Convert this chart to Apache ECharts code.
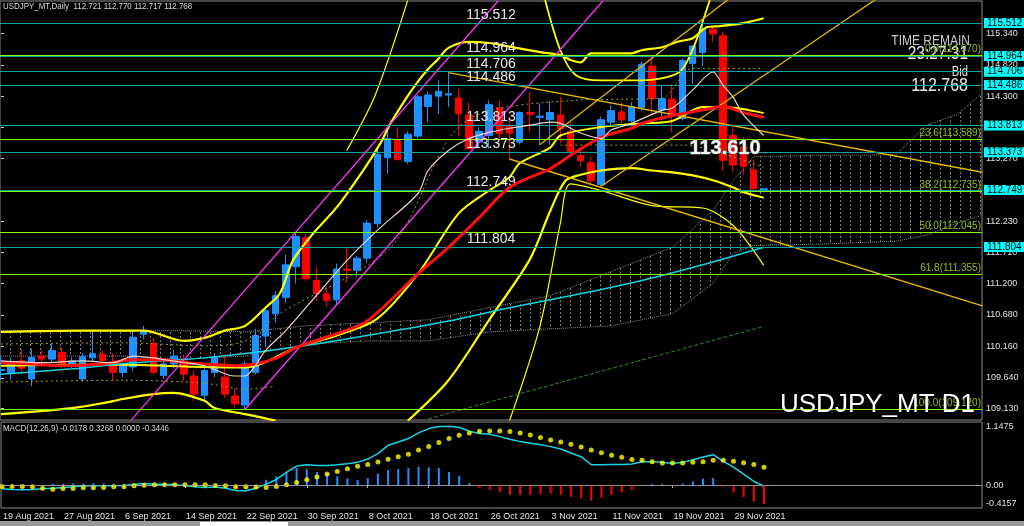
<!DOCTYPE html>
<html><head><meta charset="utf-8">
<script src="https://cdn.jsdelivr.net/npm/echarts@6/dist/echarts.min.js"></script>
<style>html,body{margin:0;padding:0;background:#000;overflow:hidden}#c{width:1024px;height:526px}</style>
</head><body><div id="c"></div>
<script>
// ---------- data ----------
const dates = ['19 Aug 2021','20 Aug 2021','23 Aug 2021','24 Aug 2021','25 Aug 2021','26 Aug 2021','27 Aug 2021','30 Aug 2021','31 Aug 2021',
'1 Sep 2021','2 Sep 2021','3 Sep 2021','6 Sep 2021','7 Sep 2021','8 Sep 2021','9 Sep 2021','10 Sep 2021','13 Sep 2021','14 Sep 2021','15 Sep 2021','16 Sep 2021','17 Sep 2021','20 Sep 2021','21 Sep 2021','22 Sep 2021','23 Sep 2021','24 Sep 2021','27 Sep 2021','28 Sep 2021','29 Sep 2021','30 Sep 2021',
'1 Oct 2021','4 Oct 2021','5 Oct 2021','6 Oct 2021','7 Oct 2021','8 Oct 2021','11 Oct 2021','12 Oct 2021','13 Oct 2021','14 Oct 2021','15 Oct 2021','18 Oct 2021','19 Oct 2021','20 Oct 2021','21 Oct 2021','22 Oct 2021','25 Oct 2021','26 Oct 2021','27 Oct 2021','28 Oct 2021','29 Oct 2021',
'1 Nov 2021','2 Nov 2021','3 Nov 2021','4 Nov 2021','5 Nov 2021','8 Nov 2021','9 Nov 2021','10 Nov 2021','11 Nov 2021','12 Nov 2021','15 Nov 2021','16 Nov 2021','17 Nov 2021','18 Nov 2021','19 Nov 2021','22 Nov 2021','23 Nov 2021','24 Nov 2021','25 Nov 2021','26 Nov 2021','29 Nov 2021','30 Nov 2021',
'1 Dec 2021','2 Dec 2021'];
const open  = [109.76,109.73,109.92,109.62,110.00,109.95,110.06,109.87,109.62,109.97,110.03,109.87,109.73,109.82,110.36,110.21,109.68,109.87,109.92,109.67,109.35,109.73,109.65,109.34,109.19,109.73,110.33,110.70,110.97,111.48,111.96,111.25,111.03,110.93,111.44,111.42,111.62,112.19,113.28,113.57,113.22,113.64,114.13,114.30,114.32,114.27,113.99,113.54,113.65,114.11,113.80,113.54,114.03,113.95,113.91,113.99,113.72,113.32,113.20,112.84,113.87,114.04,113.89,114.11,114.80,114.07,114.25,113.93,114.84,115.02,115.41,115.30,113.65,113.46,113.08,112.721];
const high  = [110.00,109.98,110.11,110.12,110.10,110.20,110.15,109.98,110.05,110.42,110.10,110.05,109.90,110.42,110.50,110.30,109.95,110.10,110.03,109.75,109.80,110.05,110.03,109.45,109.92,110.45,110.80,111.07,111.68,112.05,112.02,111.47,111.15,111.53,111.79,111.66,112.25,113.42,113.79,113.79,113.72,114.32,114.37,114.57,114.69,114.41,114.20,113.79,114.23,114.23,113.96,114.05,114.37,114.18,114.22,114.29,113.87,113.46,113.30,113.96,114.15,114.20,114.20,114.87,114.97,114.47,114.50,114.92,115.15,115.52,115.45,115.37,113.80,113.62,113.25,112.770];
const low   = [109.60,109.60,109.70,109.50,109.85,109.90,109.80,109.80,109.58,109.90,109.85,109.60,109.65,109.75,110.28,109.70,109.62,109.80,109.59,109.26,109.26,109.65,109.31,109.15,109.12,109.70,110.15,110.55,110.88,111.20,111.24,110.92,110.82,110.85,111.21,111.30,111.54,112.13,113.02,113.24,113.18,113.60,113.87,114.00,114.12,113.65,113.41,113.46,113.43,113.57,113.24,113.50,113.71,113.49,113.49,113.52,113.32,113.13,112.83,112.81,113.80,113.85,113.80,114.05,114.00,113.90,113.70,113.90,114.50,114.80,115.20,113.07,113.05,113.00,112.72,112.717];
const close = [109.78,109.87,109.80,109.98,109.95,110.09,109.87,109.92,109.99,110.04,109.93,109.73,109.84,110.31,110.42,109.73,109.87,110.00,109.70,109.37,109.76,109.98,109.37,109.21,109.87,110.34,110.75,111.00,111.51,111.98,111.28,111.03,110.92,111.44,111.42,111.62,112.20,113.34,113.60,113.25,113.67,114.29,114.32,114.38,114.34,114.01,113.43,113.72,114.16,113.68,113.69,114.03,114.00,113.97,114.03,113.76,113.38,113.23,112.90,113.91,114.06,113.91,114.13,114.83,114.26,114.26,113.99,114.89,115.13,115.41,115.33,113.24,113.16,113.14,112.77,112.768];

const macdLine = [-0.067,-0.079,-0.085,-0.079,-0.067,-0.055,-0.043,-0.030,-0.018,-0.012,-0.012,-0.012,-0.006,0.012,0.030,0.018,0.018,0.006,-0.006,-0.030,-0.043,-0.036,-0.055,-0.097,-0.103,-0.055,0.018,0.103,0.231,0.347,0.371,0.359,0.359,0.371,0.389,0.414,0.474,0.572,0.724,0.785,0.846,0.949,1.028,1.064,1.064,1.052,0.979,0.937,0.925,0.882,0.834,0.791,0.760,0.736,0.700,0.657,0.584,0.517,0.371,0.371,0.377,0.377,0.383,0.426,0.426,0.414,0.395,0.414,0.462,0.511,0.554,0.432,0.328,0.201,0.067,-0.018];
const signalLine = [-0.024,-0.024,-0.024,-0.030,-0.055,-0.073,-0.061,-0.061,-0.049,-0.049,-0.043,-0.030,-0.030,-0.012,0.000,0.006,0.006,0.006,0.006,0.006,0.006,-0.006,-0.012,-0.030,-0.030,-0.036,-0.043,-0.024,0.006,0.049,0.097,0.146,0.201,0.249,0.298,0.341,0.377,0.420,0.469,0.517,0.560,0.639,0.700,0.773,0.846,0.906,0.949,0.979,0.985,0.985,0.973,0.949,0.912,0.864,0.821,0.785,0.742,0.694,0.639,0.590,0.542,0.505,0.468,0.450,0.426,0.401,0.401,0.401,0.414,0.426,0.450,0.450,0.432,0.408,0.377,0.327];
const histValues = [-0.040,-0.050,-0.060,-0.050,-0.010,0.020,0.020,0.030,0.030,0.035,0.030,0.020,0.025,0.025,0.030,0.012,0.012,0.000,-0.012,-0.035,-0.045,-0.030,-0.040,-0.060,-0.070,-0.020,0.097,0.158,0.237,0.310,0.292,0.237,0.213,0.158,0.122,0.097,0.128,0.207,0.274,0.292,0.310,0.335,0.322,0.310,0.237,0.164,0.036,-0.055,-0.085,-0.128,-0.176,-0.176,-0.176,-0.164,-0.152,-0.176,-0.213,-0.237,-0.280,-0.225,-0.176,-0.134,-0.091,-0.006,0.018,0.018,-0.012,0.024,0.067,0.116,0.128,-0.030,-0.134,-0.219,-0.298,-0.345];

const priceTicks = [109.130,109.640,110.160,110.680,111.200,111.710,112.230,112.750,113.270,113.780,114.300,114.820,115.340];
const macdTicks = [-0.4157,0,1.1475];
const dateTickIdx = [0,6,12,18,24,30,36,42,48,54,60,66,72];
const levelPrices = [115.512,114.964,114.706,114.486,113.813,113.373,112.749,111.804];
const fibNames  = ['0.0','23.6','38.2','50.0','61.8','100.0'];
const fibPrices = [114.970,113.589,112.735,112.045,111.355,109.120];

// indicator readings [bar index, price]
const redMA = [[0,109.89],[3,109.87],[6,109.84],[10,109.87],[13,109.94],[16,109.94],[18,109.89],[20,109.87],[23,109.84],[25,109.87],[27,109.96],[29,110.14],[33,110.37],[36,110.58],[41,111.36],[44,111.80],[47,112.29],[50,112.79],[54,113.10],[56,113.32],[59,113.62],[62,113.77],[63,113.85],[66,113.98],[69,114.07],[71,114.13],[73,114.03],[75,113.95]];
const whiteMA = [[0,109.92],[4,109.89],[8,109.92],[11,109.89],[13,110.00],[15,109.97],[16,109.94],[20,109.84],[23,109.67],[24,109.67],[25,109.84],[26,110.09],[28,110.42],[31,111.00],[34,111.58],[37,112.08],[41,112.69],[42,113.07],[44,113.40],[46,113.60],[48,113.70],[50,113.77],[52,113.82],[54,113.87],[55,113.85],[57,113.69],[59,113.60],[60,113.74],[62,113.85],[65,114.07],[66,114.10],[68,114.40],[70,114.70],[71,114.48],[72,114.28],[73,113.99],[75,113.65]];
const cyanMA = [[0,109.70],[7,109.79],[13,109.89],[20,109.97],[29,110.15],[36,110.34],[44,110.58],[50,110.80],[57,111.03],[63,111.25],[69,111.51],[75,111.80]];
const greenMA = [[42,108.96],[75,110.49]];
const bbMid = [[0,109.84],[10,109.86],[20,109.82],[24,109.81],[29,110.14],[33,110.34],[37,110.62],[41,111.36],[45,112.36],[48,112.74],[50,112.96],[51,113.19],[54,113.45],[55,113.65],[59,113.79],[63,113.85],[66,113.89],[69,114.12],[71,114.12],[75,114.02]];
const bbUpper = [[0,110.40],[8,110.42],[14,110.42],[18,110.25],[20,110.30],[22,110.42],[24,110.50],[26,110.80],[27.4,111.03],[28.7,111.58],[30.7,112.03],[33,112.46],[35.6,113.07],[37.3,113.52],[38.3,113.85],[39.9,114.28],[40.9,114.52],[41.9,114.73],[42.9,114.90],[44,115.10],[46,115.20],[48,115.18],[50,115.12],[53,115.03],[55,114.98],[56,114.90],[57,114.86],[58,115.01],[62,115.01],[63,115.06],[65,115.11],[66.5,115.20],[68,115.26],[69.4,115.44],[70.7,115.46],[73,115.51],[75,115.59]];
const bbUpperB = [[53.5,115.89],[55,115.06],[56.5,114.65],[59,114.56],[63,114.56],[66.7,114.70],[68.2,115.15],[69.2,115.64],[69.7,115.89]];
const bbUpperThin = [[34,113.40],[36.8,114.32],[40,115.89]];
const bbLowerA = [[0,109.04],[7,109.14],[10,109.22],[12,109.29],[15,109.37],[17,109.39],[20,109.26],[21,109.14],[24,109.04],[26,108.97],[27,108.93]];
const bbLowerB = [[40,108.93],[44,109.60],[48,110.60],[52,111.60],[54,112.40],[55.5,112.90],[57,113.00],[59,113.07],[62,113.11],[64,113.07],[66,113.04],[68,112.99],[70,112.91],[72,112.79],[73,112.71],[75,112.62]];
const bbLowerThin = [[50,108.93],[53,110.50],[55,112.20],[56,112.85],[59,112.74],[64,112.49],[69,112.45],[72,112.16],[75,111.50]];
const oliveUpper = [[0,110.20],[12,110.22],[20,110.17],[24,110.25],[27.4,110.70],[38.3,111.80],[45.4,113.85],[56.3,114.23],[61,114.25],[65,114.27],[68,114.76],[75,114.76]];
const oliveLowerL = [[0,109.57],[12,109.60],[20,109.55],[24,109.45],[27,109.50]];
const oliveLowerR = [[55,113.49],[67,113.49],[75,113.12]];
const magenta1 = [[12.8,108.94],[48.9,115.88]];
const magenta2 = [[24,109.12],[59.2,115.88]];
const goldDown1 = [[44,114.69],[96.5,113.04]];
const goldDown2 = [[50,113.26],[96.5,110.83]];
const goldUp1 = [[59,112.81],[86,115.90]];
const goldUp2 = [[53,113.50],[71.5,115.90]];
const cloudIdx = [0,6,12,18,24,30,36,42,48,54,60,66,70,72,74,80,88,91,94,96.5];
const cloudTop = [110.42,110.42,110.42,110.42,110.40,110.50,110.55,110.60,110.80,111.00,111.40,111.80,112.40,112.90,113.30,113.32,113.33,113.82,114.00,114.35];
const cloudBot = [110.00,110.00,110.00,109.95,110.00,110.20,110.25,110.25,110.40,110.45,110.50,110.70,111.20,111.70,111.83,111.85,111.90,112.00,112.20,112.33];

// ---------- chart ----------
const X_MIN = -0.1, X_MAX = 96.46;
const Y_MIN = 108.942, Y_MAX = 115.875;
const FONT_N = "'Liberation Sans Narrow','Liberation Sans',Arial,sans-serif";
const FONT = "'Liberation Sans',Arial,sans-serif";

const pat = document.createElement('canvas'); pat.width = 10; pat.height = 4;
const pg = pat.getContext('2d'); pg.fillStyle = '#7a7a7a'; pg.fillRect(0,0,1,2);

const chart = echarts.init(document.getElementById('c'));
function lineS(data, color, width, extra) {
  return Object.assign({type:'line', xAxisIndex:0, yAxisIndex:0, data:data, showSymbol:false, symbol:'none', smooth:0.3,
    lineStyle:{color:color, width:width}, silent:true, z:4, animation:false}, extra||{});
}
function dotted(data, color) {
  return lineS(data, color, 1, {lineStyle:{color:color, width:1, type:[2,3]}});
}
const series = [
  {type:'custom', xAxisIndex:0, yAxisIndex:0, silent:true, z:1, animation:false,
   data: cloudIdx.map((x,i)=>[x, cloudTop[i], cloudBot[i]]),
   encode:{x:0, y:[1,2]},
   renderItem: function(params, api){
     const i = params.dataIndex; if (i >= cloudIdx.length-1) return;
     const pts = [api.coord([cloudIdx[i],cloudTop[i]]), api.coord([cloudIdx[i+1],cloudTop[i+1]]),
                  api.coord([cloudIdx[i+1],cloudBot[i+1]]), api.coord([cloudIdx[i],cloudBot[i]])];
     return {type:'polygon', shape:{points:pts}, style:{fill:{image:pat, repeat:'repeat'}}};
   }},
  lineS(cloudIdx.map((x,i)=>[x,cloudTop[i]]), '#8a8a8a', 1, {smooth:false, lineStyle:{color:'#8a8a8a', width:1, type:'dotted'}, z:1}),
  lineS(cloudIdx.map((x,i)=>[x,cloudBot[i]]), '#8a8a8a', 1, {smooth:false, lineStyle:{color:'#8a8a8a', width:1, type:'dotted'}, z:1}),
  // horizontal levels
  {type:'line', xAxisIndex:0, yAxisIndex:0, data:[], silent:true, z:2, animation:false,
   markLine:{symbol:'none', silent:true, animation:false, precision:3,
     lineStyle:{color:'#139f9f', width:1, type:'solid'},
     label:{show:true, position:'end', distance:2, formatter:p=>p.value.toFixed(3), backgroundColor:'#00FFFF', color:'#000',
            fontSize:10, fontFamily:FONT_N, padding:[1,3,0,3], lineHeight:9},
     data: levelPrices.map(p=>({yAxis:p}))}},
  {type:'line', xAxisIndex:0, yAxisIndex:0, data:[], silent:true, z:6, animation:false,
   markLine:{symbol:'none', silent:true, animation:false, precision:3,
     lineStyle:{color:'rgba(0,0,0,0)', width:1},
     label:{show:true, position:'insideMiddleTop', distance:1, formatter:p=>p.value.toFixed(3), color:'#E8E8E8',
            fontSize:14, fontFamily:FONT, opacity:1},
     data: levelPrices.map(p=>({yAxis:p}))}},
  {type:'line', xAxisIndex:0, yAxisIndex:0, data:[], silent:true, z:2, animation:false,
   markLine:{symbol:'none', silent:true, animation:false, precision:3,
     lineStyle:{color:'#7CFC00', width:1, type:'solid'},
     label:{show:true, position:'insideEndTop', distance:1, formatter:p=>p.name+'('+p.value.toFixed(3)+')', color:'#8fbf1a',
            fontSize:10, fontFamily:FONT_N},
     data: fibPrices.map((p,i)=>({yAxis:p, name:fibNames[i]}))}},
  // bands and MAs
  dotted(oliveUpper, '#a0a030'),
  dotted(oliveLowerL, '#a0a030'),
  dotted(oliveLowerR, '#a0a030'),
  lineS(bbUpper, '#FFFF00', 2.2),
  lineS(bbUpperB, '#FFFF00', 1.8),
  lineS(bbUpperThin, '#FFFF00', 1.2),
  lineS(bbLowerA, '#FFFF00', 2.2),
  lineS(bbLowerB, '#FFFF00', 2.2),
  lineS(bbLowerThin, '#FFFF00', 1.2),
  lineS(bbMid, '#FFFF00', 2),
  lineS(greenMA, '#2e8b22', 1, {smooth:false, lineStyle:{color:'#2e8b22', width:1, type:'dashed'}}),
  lineS(cyanMA, '#1ad1e0', 1.5),
  lineS(magenta1, '#ff33ff', 1.3, {smooth:false}),
  lineS(magenta2, '#ff33ff', 1.3, {smooth:false}),
  lineS(goldDown1, '#E6B800', 1.5, {smooth:false}),
  lineS(goldDown2, '#E6B800', 1.5, {smooth:false}),
  lineS(goldUp1, '#E6B800', 1.3, {smooth:false}),
  lineS(goldUp2, '#E6B800', 1.3, {smooth:false}),
  {type:'candlestick', xAxisIndex:0, yAxisIndex:0, silent:true, z:3, animation:false, barWidth:7,
   data: dates.map((d,i)=>[i, open[i], close[i], low[i], high[i]]),
   encode:{x:0, y:[1,2,3,4]},
   itemStyle:{color:'#1E90FF', color0:'#FF0000', borderColor:'#1E90FF', borderColor0:'#FF0000', borderWidth:1}},
  lineS(redMA, '#FF1010', 3, {z:5}),
  lineS(whiteMA, '#EBD3C3', 1.2, {z:5}),
  // MACD
  {type:'bar', xAxisIndex:1, yAxisIndex:1, silent:true, animation:false, barWidth:2,
   data: histValues.map((v,i)=>[i,v]),
   itemStyle:{color:p=>p.value[1]>=0?'#1E90FF':'#FF0000'}},
  {type:'line', xAxisIndex:1, yAxisIndex:1, silent:true, animation:false, showSymbol:false, symbol:'none',
   data: macdLine.map((v,i)=>[i,v]), lineStyle:{color:'#19d3e6', width:1.5}, z:3,
   markLine:{symbol:'none', silent:true, animation:false, label:{show:false},
     lineStyle:{color:'#9a9a9a', width:1, type:[2,2]}, data:[{yAxis:0}]}},
  {type:'scatter', xAxisIndex:1, yAxisIndex:1, silent:true, animation:false, symbolSize:5,
   data: signalLine.map((v,i)=>[i,v]), itemStyle:{color:'#FFFF00'}, z:4}
];

const option = {
  backgroundColor:'#000',
  animation:false,
  grid:[
    {left:0, top:1, width:982, height:419, show:true, borderColor:'#8c8c8c', borderWidth:1, backgroundColor:'transparent'},
    {left:0, top:422, width:982, height:86, show:true, borderColor:'#8c8c8c', borderWidth:1, backgroundColor:'transparent'}
  ],
  xAxis:[
    {type:'value', gridIndex:0, min:X_MIN, max:X_MAX, show:false, splitLine:{show:false}},
    {type:'value', gridIndex:1, min:X_MIN, max:X_MAX, splitLine:{show:false},
     axisLine:{show:true, lineStyle:{color:'#8c8c8c'}},
     axisTick:{show:true, customValues:dateTickIdx, length:3, lineStyle:{color:'#bbbbbb'}},
     axisLabel:{show:true, customValues:dateTickIdx, formatter:v=>dates[Math.round(v)], align:'left', margin:4,
                color:'#E0E0E0', fontSize:9, fontFamily:FONT_N, padding:[0,0,0,1]}}
  ],
  yAxis:[
    {type:'value', gridIndex:0, position:'right', min:Y_MIN, max:Y_MAX, splitLine:{show:false},
     axisLine:{show:false},
     axisTick:{show:true, customValues:priceTicks, length:3, lineStyle:{color:'#cccccc'}},
     axisLabel:{show:true, customValues:priceTicks, formatter:v=>v.toFixed(3), margin:4, color:'#E0E0E0', fontSize:9, fontFamily:FONT_N}},
    {type:'value', gridIndex:1, position:'right', min:-0.4157, max:1.1475, splitLine:{show:false},
     axisLine:{show:false},
     axisTick:{show:false},
     axisLabel:{show:true, customValues:macdTicks, formatter:v=>(v===0?'0.00':v.toFixed(4)), margin:4, color:'#E0E0E0',
                fontSize:9, fontFamily:FONT_N, verticalAlignMaxLabel:'top', verticalAlignMinLabel:'bottom'}}
  ],
  graphic:[
    {type:'rect', shape:{x:0, y:521, width:1024, height:5}, style:{fill:'#9a9a9a'}, silent:true},
    {type:'rect', shape:{x:200, y:522, width:88, height:4}, style:{fill:'#ffffff'}, silent:true},
    {type:'text', x:3, y:7, scaleX:0.88, silent:true, style:{text:'USDJPY_MT,Daily  112.721 112.770 112.717 112.768', fill:'#D8D8D8', font:'9px '+FONT_N, verticalAlign:'middle'}},
    {type:'text', x:3, y:429, scaleX:0.88, silent:true, style:{text:'MACD(12,26,9) -0.0178 0.3268 0.0000 -0.3446', fill:'#D8D8D8', font:'9px '+FONT_N, verticalAlign:'middle'}},
    {type:'text', x:970, y:41, scaleX:0.8, silent:true, style:{text:'TIME REMAIN', fill:'#C8C8C8', font:'15px '+FONT_N, align:'right', verticalAlign:'middle'}},
    {type:'text', x:968, y:54, scaleX:0.86, silent:true, style:{text:'23:27:31', fill:'#E8E8E8', font:'18px '+FONT_N, align:'right', verticalAlign:'middle'}},
    {type:'text', x:968, y:72, scaleX:0.75, silent:true, style:{text:'Bid', fill:'#E0E0E0', font:'15px '+FONT_N, align:'right', verticalAlign:'middle'}},
    {type:'text', x:968, y:86, scaleX:0.89, silent:true, style:{text:'112.768', fill:'#E8E8E8', font:'18px '+FONT_N, align:'right', verticalAlign:'middle'}},
    {type:'text', x:725, y:148, silent:true, z:50, style:{text:'113.610', fill:'#F4F4F4', stroke:'#707070', lineWidth:1, font:'bold 20px '+FONT, align:'center', verticalAlign:'middle'}},
    {type:'text', x:780, y:405, silent:true, z:50, style:{text:'USDJPY_MT D1', fill:'#FFFFFF', font:'26px '+FONT, align:'left', verticalAlign:'middle'}}
  ],
  series: series
};
chart.setOption(option);
</script>
</body></html>
